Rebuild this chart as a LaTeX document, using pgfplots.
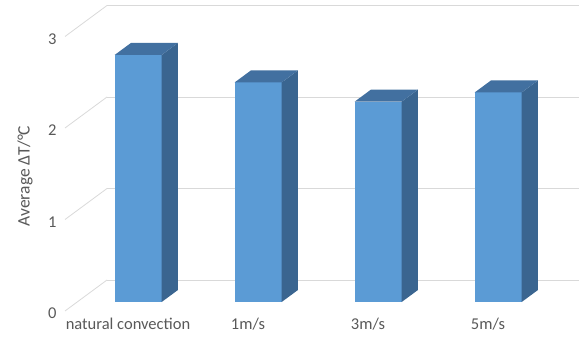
\documentclass[border=0pt]{standalone}
\usepackage{pgfplots}
\pgfplotsset{compat=1.18}
\usepackage{fontspec}
\setmainfont{Carlito}
\definecolor{barfront}{HTML}{5B9BD5}
\definecolor{barside}{HTML}{3A6590}
\definecolor{bartop}{HTML}{4270A0}
\definecolor{gridc}{HTML}{D9D9D9}
\definecolor{txt}{HTML}{595959}
% one 3D bar: left x, right x, value
\newcommand\cuboid[3]{%
 \addplot3[fill=barfront, draw=none] coordinates {(#1,0.29,0) (#2,0.29,0) (#2,0.29,#3) (#1,0.29,#3)} -- cycle;
 \addplot3[fill=barside, draw=none] coordinates {(#2,0.29,0) (#2,0.677,0) (#2,0.677,#3) (#2,0.29,#3)} -- cycle;
 \addplot3[fill=bartop, draw=none] coordinates {(#1,0.29,#3) (#2,0.29,#3) (#2,0.677,#3) (#1,0.677,#3)} -- cycle;
}
\begin{document}
\begin{tikzpicture}
\begin{axis}[
 x={(1pt,0pt)}, y={(42pt,31pt)}, z={(0pt,91.5pt)},
 xmin=65, xmax=537, ymin=0, ymax=1, zmin=0, zmax=3,
 axis line style={draw=none},
 major tick length=0pt,
 xtick={126,246,366,486},
 xticklabels={natural convection, 1m/s, 3m/s, 5m/s},
 ytick=\empty,
 ztick={0,1,2,3},
 zmajorgrids,
 major grid style={gridc, line width=0.8pt},
 tick label style={font=\fontsize{16.5}{19}\selectfont, text=txt},
 xticklabel style={anchor=north, yshift=-4pt, xshift=2pt},
 zticklabel style={xshift=-5pt},
 /pgf/number format/assume math mode=true,
 zlabel={Average ΔT/°C},
 every axis z label/.style={at={(axis cs:25,0,1.475)}, rotate=90, anchor=center, font=\fontsize{17.5}{20}\selectfont, text=txt},
 clip=false,
]
\cuboid{102.5}{149.5}{2.70}
\cuboid{222.5}{269.5}{2.40}
\cuboid{342.5}{389.5}{2.19}
\cuboid{462.5}{509.5}{2.29}
\coordinate (BL) at (axis cs:0,0,-0.3497);
\coordinate (TR) at (axis cs:579,0,3.3989);
\end{axis}
\pgfresetboundingbox
\path[use as bounding box] (BL) rectangle (TR);
\end{tikzpicture}
\end{document}
